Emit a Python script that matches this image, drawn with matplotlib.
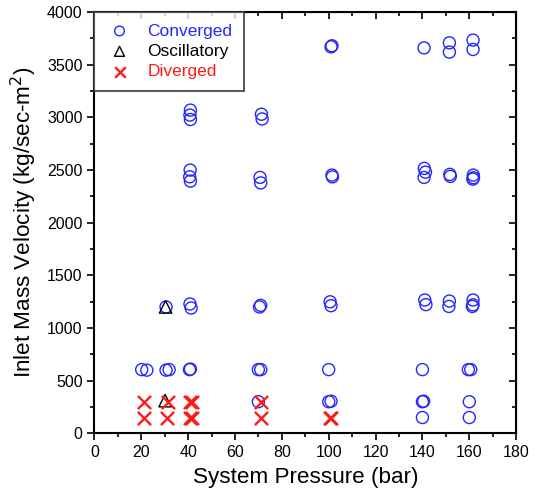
import numpy as np
import matplotlib.pyplot as plt

plt.rcParams['font.family'] = ['Liberation Sans', 'DejaVu Sans']

# converged points (pressure in bar, mass velocity in kg/sec-m2)
conv_p = [140, 160,
          70, 100, 101, 140, 140.5, 160,
          20.2, 22.4, 30.6, 31.9, 40.6, 41, 70, 71, 100, 140, 159.6, 160.6,
          30.6, 40.8, 41.3, 70.5, 71, 100.6, 101, 141, 141.5, 151.5, 151.3, 161.6, 161.6, 161.3,
          40.9, 40.7, 41, 70.7, 71, 101.4, 101.6, 140.8, 141.3, 140.7, 151.7, 151.9, 161.7, 161.8, 161.5,
          41, 40.8, 41, 71.3, 71.6,
          101, 101.4, 140.7, 151.5, 151.5, 161.6, 161.6]
conv_g = [150, 150,
          300, 300, 305, 300, 305, 300,
          605, 600, 600, 605, 605, 610, 605, 605, 605, 605, 605, 605,
          1200, 1228, 1190, 1200, 1215, 1249, 1212, 1266, 1222, 1256, 1205, 1266, 1220, 1205,
          2500, 2436, 2395, 2430, 2378, 2452, 2435, 2516, 2480, 2430, 2459, 2440, 2452, 2427, 2414,
          3069, 3022, 2980, 3030, 2985,
          3670, 3680, 3660, 3708, 3620, 3734, 3645]

osc_p = [30.4, 30.2]
osc_g = [1200, 310]

div_p = [21, 21, 31.5, 31, 41, 41.6, 41, 41.6, 71, 71, 100.4, 100.9]
div_g = [300, 150, 300, 150, 300, 300, 150, 150, 300, 150, 150, 150]

blue = '#2626ff'
red = '#ff1a1a'

fig = plt.figure(figsize=(5.36, 4.95), dpi=100)
ax = fig.add_axes([0.176, 0.1246, 0.787, 0.851])

ax.scatter(conv_p, conv_g, s=75, facecolors='none', edgecolors=blue, linewidths=1.0, label='Converged')
ax.scatter(osc_p, osc_g, s=80, marker='^', facecolors='none', edgecolors='black', linewidths=1.0, label='Oscillatory')
ax.scatter(div_p, div_g, s=90, marker='x', color=red, linewidths=1.7, label='Diverged')

ax.set_xlim(0, 180)
ax.set_ylim(0, 4000)
ax.set_xticks(np.arange(0, 181, 20))
ax.set_xticks(np.arange(0, 181, 10), minor=True)
ax.set_yticks(np.arange(0, 4001, 500))
ax.set_yticks(np.arange(0, 4001, 250), minor=True)
ax.tick_params(axis='both', which='both', labelsize=11.5, width=1.2, direction='out')
ax.tick_params(which='major', length=5)
ax.tick_params(which='minor', length=3)
for sp in ax.spines.values():
    sp.set_linewidth(1.5)

# top and right ticks point inward
top = ax.secondary_xaxis('top')
top.set_xticks(np.arange(0, 181, 20))
top.set_xticks(np.arange(0, 181, 10), minor=True)
top.tick_params(which='both', direction='in', labeltop=False, width=1.2)
top.tick_params(which='major', length=5)
top.tick_params(which='minor', length=3)
right = ax.secondary_yaxis('right')
right.set_yticks(np.arange(0, 4001, 500))
right.set_yticks(np.arange(0, 4001, 250), minor=True)
right.tick_params(which='both', direction='in', labelright=False, width=1.2)
right.tick_params(which='major', length=5)
right.tick_params(which='minor', length=3)

ax.set_xlabel('System Pressure (bar)', fontsize=16.2, labelpad=5)
ax.set_ylabel('Inlet Mass Velocity (kg/sec-m$^2$)', fontsize=16.2, labelpad=6)

leg = ax.legend(loc='upper left', fontsize=12.5, frameon=True, fancybox=False,
                borderaxespad=0, handlelength=1.6, handletextpad=0.8, borderpad=0.65,
                labelspacing=0.3, markerscale=0.8)
leg.get_frame().set_edgecolor('#333333')
leg.get_frame().set_linewidth(1.5)
for txt, c in zip(leg.get_texts(), [blue, 'black', red]):
    txt.set_color(c)

fig.savefig('out.png', dpi=100)
